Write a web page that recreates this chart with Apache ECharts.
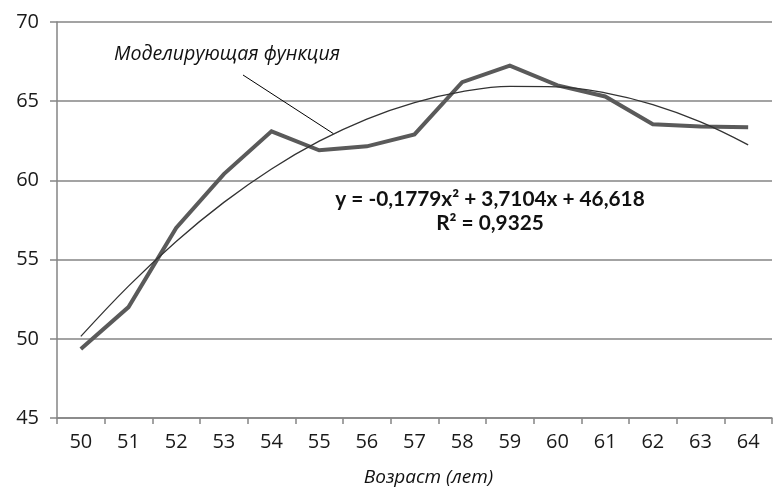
<!DOCTYPE html>
<html>
<head>
<meta charset="utf-8">
<script src="https://cdn.jsdelivr.net/npm/echarts@6/dist/echarts.min.js"></script>
<style>
  html, body { margin: 0; padding: 0; background: #ffffff; }
  #chart { width: 775px; height: 492px; }
</style>
</head>
<body>
<div id="chart"></div>
<script>
// Age categories (years)
const ages = ['50', '51', '52', '53', '54', '55', '56', '57', '58', '59', '60', '61', '62', '63', '64'];
// Observed values
const observed = [49.35, 52.0, 57.0, 60.4, 63.1, 61.9, 62.15, 62.9, 66.2, 67.25, 66.0, 65.3, 63.55, 63.4, 63.35];
// Model curve y = -0,1779x² + 3,7104x + 46,618 evaluated at x = 1..15
const model = [50.151, 53.327, 56.148, 58.613, 60.723, 62.476, 63.874, 64.916, 65.602, 65.932, 65.907, 65.525, 64.788, 63.695, 62.247];
// Value axis range
const yMin = 45, yMax = 70, yStep = 5;

const modelLabel = 'Моделирующая функция';
const equationLines = ['y = -0,1779x² + 3,7104x + 46,618', 'R² = 0,9325'];
const axisTitle = 'Возраст (лет)';

const FONT = '"Open Sans", "DejaVu Sans", sans-serif';
const BOLD_FONT = 'Lato, "Open Sans", sans-serif';
const chart = echarts.init(document.getElementById('chart'), null, { renderer: 'canvas' });

chart.setOption({
  animation: false,
  backgroundColor: '#ffffff',
  grid: { left: 57, right: 3, top: 22, bottom: 73 },
  xAxis: {
    type: 'category',
    data: ages,
    boundaryGap: true,
    name: axisTitle,
    nameLocation: 'middle',
    nameGap: 50,
    nameTextStyle: { fontFamily: FONT, fontStyle: 'italic', fontSize: 19, color: '#111', padding: [0, 0, 0, 28] },
    axisLine: { lineStyle: { color: '#858585', width: 1.5 } },
    axisTick: { show: true, length: 6, inside: false, lineStyle: { color: '#858585', width: 1.5 } },
    axisLabel: { fontFamily: FONT, fontSize: 20, color: '#1a1a1a', margin: 14 },
    splitLine: { show: false }
  },
  yAxis: {
    type: 'value',
    min: yMin,
    max: yMax,
    interval: yStep,
    axisLine: { show: true, lineStyle: { color: '#858585', width: 1.5 } },
    axisTick: { show: true, length: 7, lineStyle: { color: '#858585', width: 1.5 } },
    axisLabel: { fontFamily: FONT, fontSize: 20, color: '#1a1a1a', margin: 18 },
    splitLine: { show: true, lineStyle: { color: '#858585', width: 1.5 } }
  },
  series: [
    {
      name: 'observed',
      type: 'line',
      data: observed,
      symbol: 'none',
      lineStyle: { color: '#5a5a5a', width: 4, join: 'miter' },
      z: 3
    },
    {
      name: 'model',
      type: 'line',
      data: model,
      symbol: 'none',
      smooth: 0.4,
      lineStyle: { color: '#333333', width: 1.3 },
      z: 4
    }
  ]
});

// Leader-line tip sits on the model curve between ages 55 and 56
const p5 = chart.convertToPixel({ gridIndex: 0 }, [5, 62.95]);
const p6 = chart.convertToPixel({ gridIndex: 0 }, [6, 62.95]);
const tipX = p5[0] + 0.3 * (p6[0] - p5[0]);
const tipY = p5[1];

chart.setOption({
  graphic: [
    {
      type: 'text',
      left: 114, top: 44,
      style: { text: modelLabel, fontFamily: FONT, fontStyle: 'italic', fontSize: 19.6, fill: '#111' }
    },
    {
      type: 'line',
      shape: { x1: 243, y1: 75, x2: tipX, y2: tipY },
      style: { stroke: '#000', lineWidth: 1 }
    },
    {
      type: 'text',
      x: 490, y: 199,
      style: { text: equationLines[0], fontFamily: BOLD_FONT, fontWeight: 'bold', fontSize: 20.8, fill: '#111', align: 'center', verticalAlign: 'middle' }
    },
    {
      type: 'text',
      x: 490, y: 223,
      style: { text: equationLines[1], fontFamily: BOLD_FONT, fontWeight: 'bold', fontSize: 20.8, fill: '#111', align: 'center', verticalAlign: 'middle' }
    }
  ]
});
</script>
</body>
</html>
